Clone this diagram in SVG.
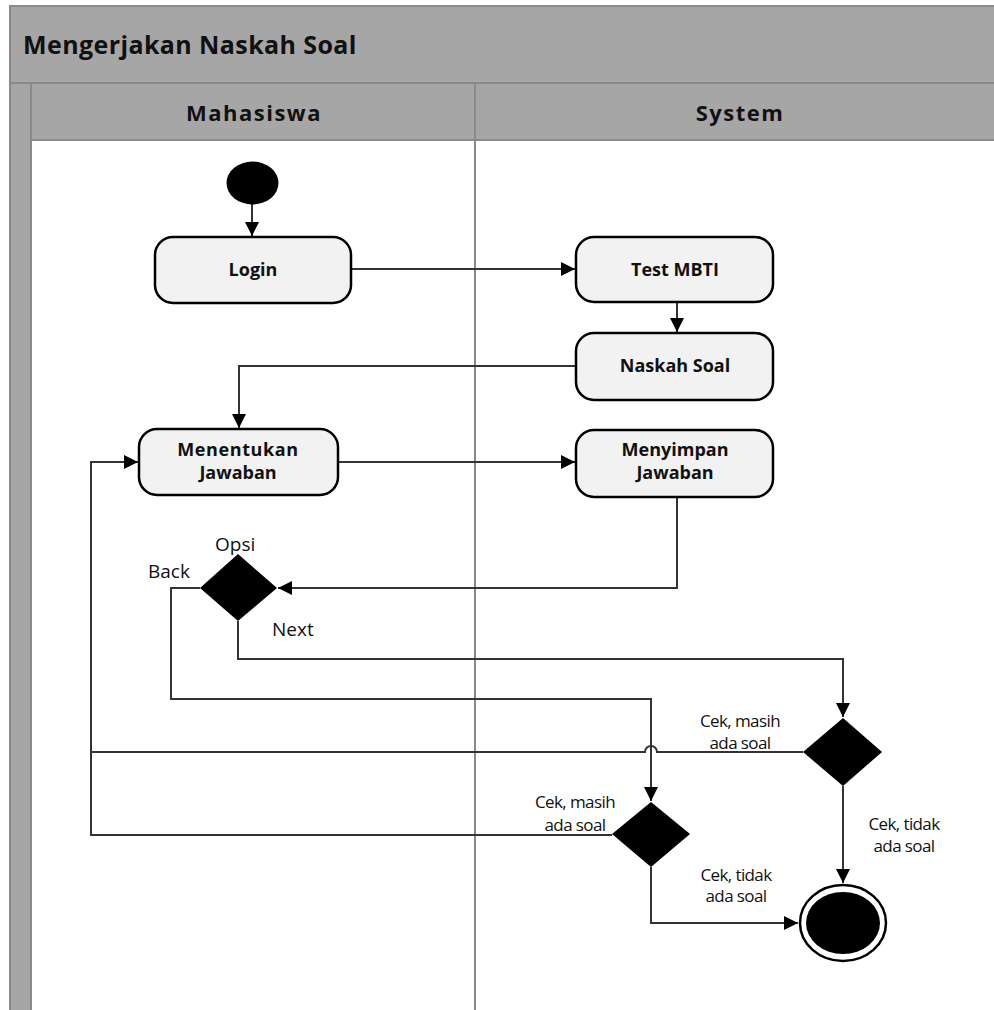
<svg xmlns="http://www.w3.org/2000/svg" width="994" height="1010" viewBox="0 0 994 1010">
  <style>
    .band { fill: #a6a6a6; stroke: #8a8a8a; stroke-width: 2; }
    .lane { fill: none; stroke: #8a8a8a; stroke-width: 2; }
    .act { fill: #f2f2f2; stroke: #000; stroke-width: 2.5; }
    .solid { fill: #000; }
    .wire { fill: none; stroke: #333; stroke-width: 2; }
    .title { font-family: "Open Sans", "Liberation Sans", sans-serif; font-weight: bold; font-size: 25px; fill: #111; letter-spacing: 0.4px; }
    .head { font-family: "Open Sans", "Liberation Sans", sans-serif; font-weight: bold; font-size: 22px; fill: #111; text-anchor: middle; letter-spacing: 1.5px; }
    .lbl { font-family: "Open Sans", "Liberation Sans", sans-serif; font-weight: bold; font-size: 18px; fill: #111; text-anchor: middle; }
    .note { font-family: "Open Sans", "Liberation Sans", sans-serif; font-size: 19px; fill: #111; }
    .guard { font-family: "Open Sans", "Liberation Sans", sans-serif; font-size: 17px; fill: #111; text-anchor: middle; letter-spacing: -0.6px; }
  </style>
  <defs>
    <marker id="arrow" viewBox="0 0 14 14" refX="14" refY="7" markerWidth="14" markerHeight="14" markerUnits="userSpaceOnUse" orient="auto">
      <path d="M0,0 L14,7 L0,14 Z" fill="#000"/>
    </marker>
  </defs>

  <rect width="994" height="1010" fill="#fff"/>

  <!-- swimlane frame -->
  <g id="pool">
    <rect class="band" x="10" y="6" width="1000" height="77"/>
    <text class="title" x="23" y="54">Mengerjakan Naskah Soal</text>
    <rect class="band" x="10" y="83" width="21" height="940"/>
    <rect class="band" x="31" y="83" width="444" height="57"/>
    <rect class="band" x="475" y="83" width="540" height="57"/>
    <text class="head" x="254" y="121">Mahasiswa</text>
    <text class="head" x="740" y="121">System</text>
    <line class="lane" x1="475" y1="140" x2="475" y2="1010"/>
  </g>

  <!-- connectors -->
  <g id="connectors">
    <line class="wire" x1="252" y1="204" x2="252" y2="236" marker-end="url(#arrow)"/>
    <line class="wire" x1="351" y1="269" x2="575" y2="269" marker-end="url(#arrow)"/>
    <line class="wire" x1="677" y1="302" x2="677" y2="332" marker-end="url(#arrow)"/>
    <polyline class="wire" points="576,366 239,366 239,428" marker-end="url(#arrow)"/>
    <line class="wire" x1="338" y1="462" x2="575" y2="462" marker-end="url(#arrow)"/>
    <polyline class="wire" points="677,497 677,588 278,588" marker-end="url(#arrow)"/>
    <!-- Next -->
    <polyline class="wire" points="238,621 238,659 843,659 843,717" marker-end="url(#arrow)"/>
    <!-- Back -->
    <polyline class="wire" points="200,588 171,588 171,699 651,699 651,801" marker-end="url(#arrow)"/>
    <!-- loops back to Menentukan Jawaban -->
    <path class="wire" d="M803,752 L657,752 A6,6 0 0 0 645,752 L91,752"/>
    <polyline class="wire" points="612,835 91,835 91,462 138,462" marker-end="url(#arrow)"/>
    <!-- to final node -->
    <line class="wire" x1="843" y1="786" x2="843" y2="883" marker-end="url(#arrow)"/>
    <polyline class="wire" points="651,867 651,923 798,923" marker-end="url(#arrow)"/>
  </g>

  <g id="start">
    <ellipse class="solid" cx="252.5" cy="183" rx="26" ry="21.5"/>
  </g>

  <g id="login">
    <rect class="act" x="155" y="237" width="196" height="66" rx="18"/>
    <text class="lbl" x="253" y="276">Login</text>
  </g>

  <g id="test-mbti">
    <rect class="act" x="576" y="237" width="197" height="65" rx="18"/>
    <text class="lbl" x="675" y="276">Test MBTI</text>
  </g>

  <g id="naskah-soal">
    <rect class="act" x="576" y="333" width="197" height="67" rx="18"/>
    <text class="lbl" x="675" y="372">Naskah Soal</text>
  </g>

  <g id="menentukan-jawaban">
    <rect class="act" x="139" y="429" width="199" height="66" rx="18"/>
    <text class="lbl" x="238" y="456" letter-spacing="0.6">Menentukan</text>
    <text class="lbl" x="238" y="479">Jawaban</text>
  </g>

  <g id="menyimpan-jawaban">
    <rect class="act" x="576" y="430" width="197" height="67" rx="18"/>
    <text class="lbl" x="675" y="456">Menyimpan</text>
    <text class="lbl" x="675" y="479">Jawaban</text>
  </g>

  <g id="opsi">
    <polygon class="solid" points="238,554 277,588 238,621 200,588"/>
    <text class="note" x="215" y="551">Opsi</text>
    <text class="note" x="148" y="578">Back</text>
    <text class="note" x="272" y="636">Next</text>
  </g>

  <g id="cek-kanan">
    <polygon class="solid" points="843,718 882,752 843,786 803,752"/>
    <text class="guard" x="740" y="727">Cek, masih</text>
    <text class="guard" x="740" y="749">ada soal</text>
    <text class="guard" x="904" y="830">Cek, tidak</text>
    <text class="guard" x="904" y="852">ada soal</text>
  </g>

  <g id="cek-kiri">
    <polygon class="solid" points="651,802 690,834 651,867 612,834"/>
    <text class="guard" x="575" y="808">Cek, masih</text>
    <text class="guard" x="575" y="831">ada soal</text>
    <text class="guard" x="736" y="881">Cek, tidak</text>
    <text class="guard" x="736" y="902">ada soal</text>
  </g>

  <g id="end">
    <ellipse cx="843" cy="923" rx="43" ry="38" fill="#fff" stroke="#000" stroke-width="2.5"/>
    <ellipse class="solid" cx="843" cy="923" rx="37" ry="31"/>
  </g>
</svg>
